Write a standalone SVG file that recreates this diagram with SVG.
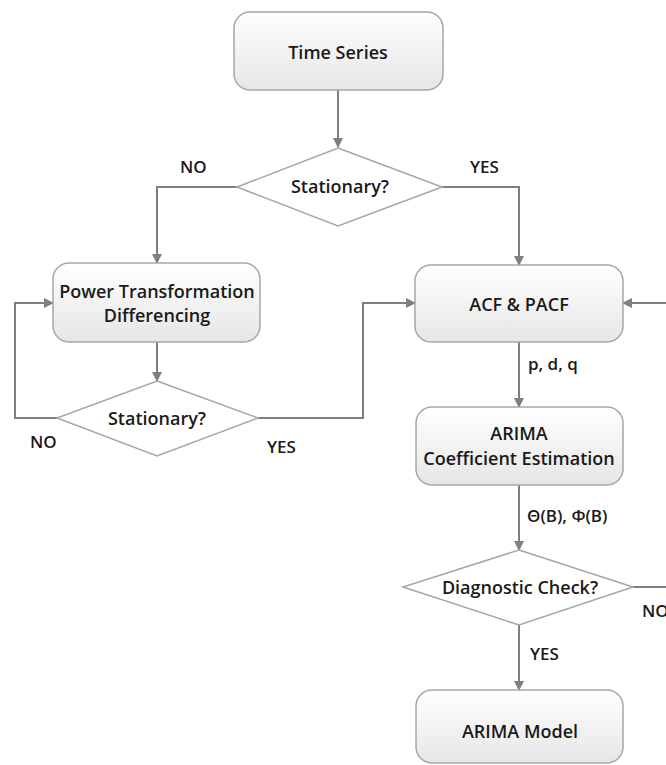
<svg xmlns="http://www.w3.org/2000/svg" width="666" height="765" viewBox="0 0 666 765">
<defs>
<linearGradient id="g" x1="0" y1="0" x2="0" y2="1">
<stop offset="0" stop-color="#ffffff"/>
<stop offset="1" stop-color="#e6e6e6"/>
</linearGradient>
<marker id="ah" markerWidth="10" markerHeight="10" refX="9" refY="5" orient="auto" markerUnits="userSpaceOnUse">
<path d="M0,0 L10,5 L0,10 Z" fill="#7f7f7f"/>
</marker>
<style>
.box{fill:url(#g);stroke:#a6a6a6;stroke-width:1.5}
.dia{fill:#ffffff;stroke:#a6a6a6;stroke-width:1.5}
.t{font-family:"Open Sans","Liberation Sans",sans-serif;font-weight:600;font-size:18px;fill:#1a1a1a;text-anchor:middle}
.l{font-family:"Open Sans","Liberation Sans",sans-serif;font-weight:600;font-size:17px;fill:#1a1a1a}
.c{fill:none;stroke:#7f7f7f;stroke-width:2}
</style>
</defs>
<g id="connectors">
<path class="c" d="M338,90 V147" marker-end="url(#ah)"/>
<path class="c" d="M237,187 H157 V263" marker-end="url(#ah)"/>
<path class="c" d="M442,187 H519 V265" marker-end="url(#ah)"/>
<path class="c" d="M157,342 V381" marker-end="url(#ah)"/>
<path class="c" d="M57,418 H15 V303 H53" marker-end="url(#ah)"/>
<path class="c" d="M258,418 H363 V303 H415" marker-end="url(#ah)"/>
<path class="c" d="M666,303 H623" marker-end="url(#ah)"/>
<path class="c" d="M519,342 V407" marker-end="url(#ah)"/>
<path class="c" d="M519,485 V550" marker-end="url(#ah)"/>
<path class="c" d="M633,587 H666"/>
<path class="c" d="M519,625 V690" marker-end="url(#ah)"/>
<text class="l" x="180" y="173">NO</text>
<text class="l" x="470" y="173">YES</text>
<text class="l" x="30" y="448">NO</text>
<text class="l" x="267" y="453">YES</text>
<text class="l" x="528" y="370">p, d, q</text>
<text class="l" x="527" y="522">Θ(B), Φ(B)</text>
<text class="l" x="642" y="617">NO</text>
<text class="l" x="530" y="660">YES</text>
</g>
<g id="time-series">
<rect class="box" x="234" y="12" width="209" height="78" rx="16"/>
<text class="t" x="338" y="59">Time Series</text>
</g>
<g id="stationary-1">
<polygon class="dia" points="338,148 442,187 338,226 237,187"/>
<text class="t" x="340" y="193">Stationary?</text>
</g>
<g id="power-transformation">
<rect class="box" x="53" y="263" width="207" height="79" rx="16"/>
<text class="t" x="157" y="298">Power Transformation</text>
<text class="t" x="157" y="322">Differencing</text>
</g>
<g id="stationary-2">
<polygon class="dia" points="157,381 258,418 157,456 57,418"/>
<text class="t" x="157" y="425">Stationary?</text>
</g>
<g id="acf-pacf">
<rect class="box" x="415" y="265" width="208" height="77" rx="16"/>
<text class="t" x="519" y="311">ACF &amp; PACF</text>
</g>
<g id="arima-coef">
<rect class="box" x="416" y="407" width="207" height="78" rx="16"/>
<text class="t" x="519" y="440">ARIMA</text>
<text class="t" x="519" y="465">Coefficient Estimation</text>
</g>
<g id="diagnostic">
<polygon class="dia" points="519,550 633,587 519,625 403,587"/>
<text class="t" x="520" y="594">Diagnostic Check?</text>
</g>
<g id="arima-model">
<rect class="box" x="416" y="690" width="207" height="73" rx="16"/>
<text class="t" x="520" y="738">ARIMA Model</text>
</g>
</svg>
